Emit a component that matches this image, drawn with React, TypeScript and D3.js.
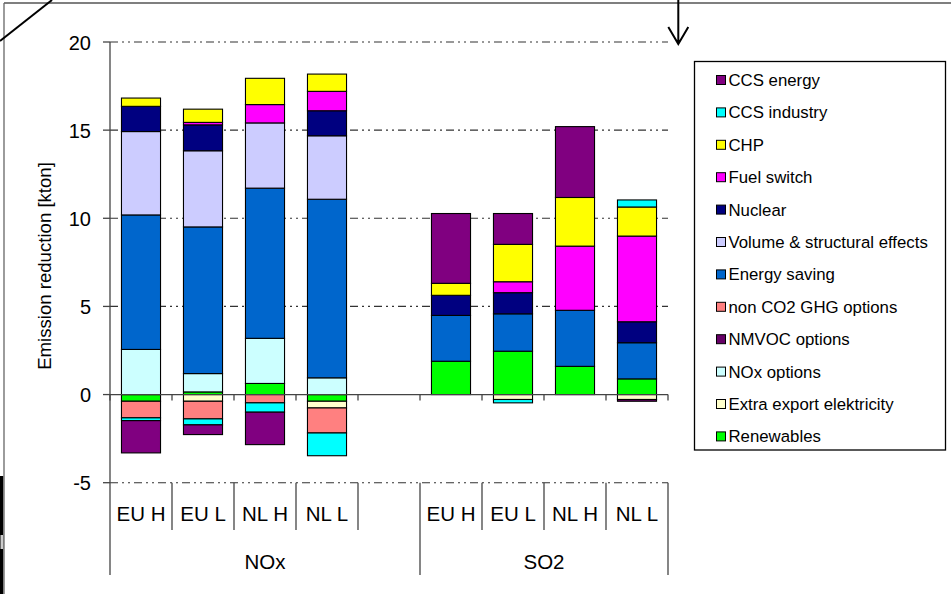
import React from "react";
import * as d3 from "d3";

const categories = ["EU H", "EU L", "NL H", "NL L", "", "EU H", "EU L", "NL H", "NL L"];
const groups = [
  { label: "NOx", from: 0, to: 5 },
  { label: "SO2", from: 5, to: 9 },
];
// stacking order (bottom to top)
const seriesNames = [
  "Renewables",
  "Extra export elektricity",
  "NOx options",
  "NMVOC options",
  "non CO2 GHG options",
  "Energy saving",
  "Volume & structural effects",
  "Nuclear",
  "Fuel switch",
  "CHP",
  "CCS industry",
  "CCS energy",
];
const seriesColors = [
  "#00FF00",
  "#FFFFCC",
  "#CCFFFF",
  "#660066",
  "#FF8080",
  "#0066CC",
  "#CCCCFF",
  "#000080",
  "#FF00FF",
  "#FFFF00",
  "#00FFFF",
  "#800080",
];
const renewables = [-0.38, 0.15, 0.63, -0.38, 0, 1.89, 2.46, 1.6, 0.89];
const extraExport = [0, -0.38, 0, -0.38, 0, 0, -0.28, 0, -0.28];
const noxOptions = [2.56, 1.04, 2.56, 0.95, 0, 0, 0, 0, 0];
const nmvocOptions = [0, 0, 0, 0, 0, 0, 0, 0, -0.1];
const nonCO2 = [-0.94, -1.0, -0.47, -1.42, 0, 0, 0, 0, 0];
const energySaving = [7.63, 8.32, 8.52, 10.13, 0, 2.6, 2.12, 3.18, 2.05];
const volume = [4.73, 4.32, 3.7, 3.6, 0, 0, 0, 0, 0];
const nuclear = [1.43, 1.47, 0, 1.42, 0, 1.14, 1.2, 0, 1.19];
const fuelSwitch = [0, 0.14, 1.04, 1.1, 0, 0, 0.62, 3.64, 4.86];
const chp = [0.47, 0.75, 1.49, 0.98, 0, 0.68, 2.12, 2.76, 1.65];
const ccsIndustry = [-0.16, -0.34, -0.53, -1.29, 0, 0, -0.19, 0, 0.4];
const ccsEnergy = [-1.83, -0.55, -1.84, 0, 0, 3.96, 1.75, 4.02, 0];
const seriesValues = [
  renewables, extraExport, noxOptions, nmvocOptions, nonCO2, energySaving,
  volume, nuclear, fuelSwitch, chp, ccsIndustry, ccsEnergy,
];
const yTicks = [-5, 0, 5, 10, 15, 20];

const FONT = "'Liberation Sans', Arial, sans-serif";

export default function App() {
  const left = 110, right = 668, top = 42, bottom = 482.7;
  const y = d3.scaleLinear().domain([-5, 20]).range([bottom, top]);
  const idx = categories.map((_, i) => i);
  const x = d3.scaleBand<number>().domain(idx).range([left, right]).paddingInner(0.37).paddingOuter(0.185);
  const step = x.step();

  const table = idx.map((i) => {
    const row: any = { i };
    seriesNames.forEach((s, k) => (row[s] = seriesValues[k][i]));
    return row;
  });
  const stacked = d3.stack<any>().keys(seriesNames).offset(d3.stackOffsetDiverging).order(d3.stackOrderNone)(table);

  const y0 = y(0);
  const boundaries = d3.range(categories.length + 1).map((i) => left + i * step);
  const gridPath = (v: number) => `M${left},${y(v)}H${right}`;

  const legendItems = seriesNames.map((s, k) => ({ s, c: seriesColors[k] })).reverse();

  return (
    <svg width={951} height={594} style={{ position: "absolute", left: 0, top: 0, background: "#fff" }} fontFamily={FONT}>
      <rect x={0} y={0} width={951} height={594} fill="#fff" />
      {/* outer frame fragments */}
      <line x1={4} y1={3} x2={951} y2={3} stroke="#555" strokeWidth={1.3} />
      <line x1={4} y1={3} x2={4} y2={594} stroke="#666" strokeWidth={1.3} />
      <rect x={0} y={476} width={3.2} height={118} fill="#000" />
      <rect x={0.5} y={535} width={2.5} height={14} fill="#ccc" />
      <line x1={0} y1={41} x2={52} y2={0} stroke="#000" strokeWidth={2} />
      <path d="M678.3,0V44M668.3,27L678.3,44L688.3,27" fill="none" stroke="#000" strokeWidth={2} />

      {/* gridlines */}
      {yTicks.filter((v) => v !== 0).map((v) => (
        <path key={v} d={gridPath(v)} stroke="#333" strokeWidth={1.1} strokeDasharray="8,4,2,4,2,4" fill="none" />
      ))}

      {/* bars */}
      {stacked.map((ser, k) => (
        <g key={ser.key} fill={seriesColors[k]}>
          {ser.map((d, i) => {
            if (d[1] - d[0] === 0) return null;
            const y1 = y(Math.max(d[0], d[1]));
            const y2 = y(Math.min(d[0], d[1]));
            return (
              <rect key={i} x={x(i)!} y={y1} width={x.bandwidth()} height={y2 - y1} stroke="#000" strokeWidth={1.1} />
            );
          })}
        </g>
      ))}

      {/* y axis */}
      <line x1={left} y1={top} x2={left} y2={bottom} stroke="#444" strokeWidth={1.3} />
      {yTicks.map((v) => (
        <g key={v}>
          <line x1={103} y1={y(v)} x2={left} y2={y(v)} stroke="#444" strokeWidth={1.3} />
          <text x={91} y={y(v) + 7.5} textAnchor="end" fontSize={20} fill="#000">{v}</text>
        </g>
      ))}
      <text transform={`translate(50.5,266) rotate(-90)`} textAnchor="middle" fontSize={18.6} fill="#000">
        Emission reduction [kton]
      </text>

      {/* category axis at zero */}
      <line x1={left} y1={y0} x2={right} y2={y0} stroke="#444" strokeWidth={1.3} />
      {boundaries.map((bx, i) => (
        <line key={i} x1={bx} y1={y0} x2={bx} y2={y0 + 6} stroke="#444" strokeWidth={1.3} />
      ))}

      {/* multi-level labels */}
      {boundaries.map((bx, i) => {
        const full = i === 0 || i === 5 || i === 9;
        return (
          <line key={"s" + i} x1={bx} y1={bottom} x2={bx} y2={full ? 575 : 530} stroke="#444" strokeWidth={1.3} />
        );
      })}
      {categories.map((c, i) => (
        <text key={"c" + i} x={x(i)! + x.bandwidth() / 2} y={520.5} textAnchor="middle" fontSize={20.5} fill="#000">{c}</text>
      ))}
      {groups.map((g) => (
        <text key={g.label} x={left + ((g.from + g.to) / 2) * step} y={569} textAnchor="middle" fontSize={20.5} fill="#000">{g.label}</text>
      ))}

      {/* legend */}
      <rect x={694.5} y={61.5} width={251} height={388.5} fill="#fff" stroke="#000" strokeWidth={1.3} />
      {legendItems.map((it, k) => {
        const cy = 80 + k * 32.4;
        return (
          <g key={it.s}>
            <rect x={716.5} y={cy - 4.5} width={9} height={9} fill={it.c} stroke="#000" strokeWidth={1} />
            <text x={728.5} y={cy + 6} fontSize={16.8} fill="#000">{it.s}</text>
          </g>
        );
      })}
    </svg>
  );
}
